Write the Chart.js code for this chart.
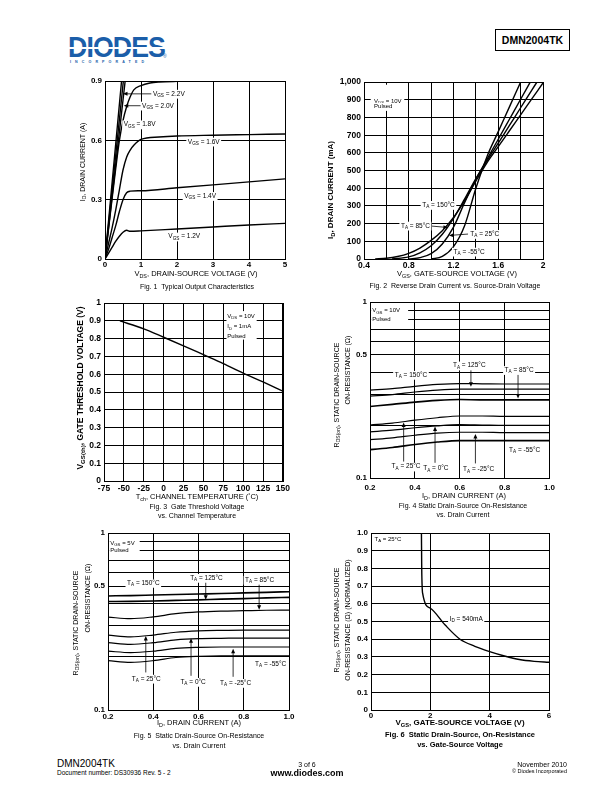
<!DOCTYPE html>
<html>
<head>
<meta charset="utf-8">
<title>DMN2004TK - page 3</title>
<script src="https://cdn.jsdelivr.net/npm/chart.js@4.4.1/dist/chart.umd.min.js"></script>
<style>
body { margin: 0; background: #fff; }
#page { position: relative; width: 612px; height: 792px; overflow: hidden; font-family: "Liberation Sans", Arial, sans-serif; color: #000; }
canvas { position: absolute; }
.t { position: absolute; white-space: nowrap; line-height: 1; font-size: 7px; transform: translate(-50%, -50%); }
.l { transform: translate(0, -50%); }
.rr { transform: translate(-100%, -50%); }
.rot { transform: translate(-50%, -50%) rotate(-90deg); }
.b { font-weight: bold; }
sub { font-size: 72%; vertical-align: -0.3em; line-height: 0; }
sup { font-size: 70%; vertical-align: 0.5em; line-height: 0; }
</style>
</head>
<body>
<div id="page">
  <!-- header -->
  <div style="position:absolute;left:68px;top:32px;font:bold 30px 'Liberation Sans',Arial,sans-serif;color:#1b5ea9;letter-spacing:-1px;line-height:1;transform:scaleX(0.89);transform-origin:left top;">DIODES</div>
  <div style="position:absolute;left:66px;top:47px;width:102px;height:1.5px;background:#fff;"></div>
  <div style="position:absolute;left:163px;top:53px;font-size:5px;color:#1b5ea9;">&#174;</div>
  <div style="position:absolute;left:70px;top:60px;font-size:3.6px;letter-spacing:4.1px;color:#1b5ea9;font-weight:bold;">INCORPORATED</div>
  <div style="position:absolute;left:495px;top:29px;width:75px;height:22px;border:1px solid #000;box-sizing:border-box;font-weight:bold;font-size:10.5px;display:flex;align-items:center;justify-content:center;">DMN2004TK</div>

  <canvas id="fig1"></canvas>
  <canvas id="fig2"></canvas>
  <canvas id="fig3"></canvas>
  <canvas id="fig4"></canvas>
  <canvas id="fig5"></canvas>
  <canvas id="fig6"></canvas>

  <!-- fig 1 texts -->
  <div class="t rot" style="left:82px;top:162px;">I<sub>D</sub>, DRAIN CURRENT (A)</div>
  <div class="t" style="left:196px;top:274px;font-size:7.5px;">V<sub>DS</sub>, DRAIN-SOURCE VOLTAGE (V)</div>
  <div class="t" style="left:197px;top:286px;">Fig. 1&nbsp; Typical Output Characteristics</div>

  <!-- fig 2 texts -->
  <div class="t rot b" style="left:331px;top:190px;font-size:8px;">I<sub>D</sub>, DRAIN CURRENT (mA)</div>
  <div class="t" style="left:457px;top:274px;font-size:7.5px;">V<sub>GS</sub>, GATE-SOURCE VOLTAGE (V)</div>
  <div class="t" style="left:455px;top:285px;">Fig. 2&nbsp; Reverse Drain Current vs. Source-Drain Voltage</div>

  <!-- fig 3 texts -->
  <div class="t rot b" style="left:80px;top:388px;font-size:8.5px;">V<sub>GS(th)</sub>, GATE THRESHOLD VOLTAGE (V)</div>
  <div class="t" style="left:197px;top:497px;font-size:7.5px;">T<sub>ch</sub>, CHANNEL TEMPERATURE (<sup>°</sup>C)</div>
  <div class="t" style="left:197px;top:506px;">Fig. 3&nbsp; Gate Threshold Voltage</div>
  <div class="t" style="left:197px;top:515px;">vs. Channel Temperature</div>

  <!-- fig 4 texts -->
  <div class="t rot" style="left:336px;top:395px;">R<sub>DS(on)</sub>, STATIC DRAIN-SOURCE</div>
  <div class="t rot" style="left:347px;top:370px;">ON-RESISTANCE (&#937;)</div>
  <div class="t" style="left:464px;top:496px;font-size:7.5px;">I<sub>D</sub>, DRAIN CURRENT (A)</div>
  <div class="t" style="left:463px;top:505px;">Fig. 4 Static Drain-Source On-Resistance</div>
  <div class="t" style="left:463px;top:514px;">vs. Drain Current</div>

  <!-- fig 5 texts -->
  <div class="t rot" style="left:75px;top:623px;">R<sub>DS(on)</sub>, STATIC DRAIN-SOURCE</div>
  <div class="t rot" style="left:87px;top:598px;">ON-RESISTANCE (&#937;)</div>
  <div class="t" style="left:199px;top:723px;font-size:7.5px;">I<sub>D</sub>, DRAIN CURRENT (A)</div>
  <div class="t" style="left:199px;top:735px;">Fig. 5&nbsp; Static Drain-Source On-Resistance</div>
  <div class="t" style="left:199px;top:745px;">vs. Drain Current</div>

  <!-- fig 6 texts -->
  <div class="t rot" style="left:336px;top:620px;">R<sub>DS(on)</sub>, STATIC DRAIN-SOURCE</div>
  <div class="t rot" style="left:347px;top:620px;">ON-RESISTANCE (&#937;) (NORMALIZED)</div>
  <div class="t b" style="left:460px;top:723px;font-size:8px;">V<sub>GS</sub>, GATE-SOURCE VOLTAGE (V)</div>
  <div class="t b" style="left:460px;top:735px;font-size:7.5px;">Fig. 6&nbsp; Static Drain-Source, On-Resistance</div>
  <div class="t b" style="left:460px;top:745px;font-size:7.5px;">vs. Gate-Source Voltage</div>

  <!-- footer -->
  <div class="t l" style="left:57px;top:764px;font-size:10px;">DMN2004TK</div>
  <div class="t l" style="left:57px;top:773px;font-size:6.5px;">Document number: DS30936 Rev. 5 - 2</div>
  <div class="t" style="left:307px;top:764px;font-size:7px;">3 of 6</div>
  <div class="t b" style="left:307px;top:773px;font-size:9px;">www.diodes.com</div>
  <div class="t rr" style="left:567px;top:764px;font-size:7px;">November 2010</div>
  <div class="t rr" style="left:567px;top:772px;font-size:5.5px;">&#169; Diodes Incorporated</div>
</div>

<script>
const FONT = '"Liberation Sans", Arial, sans-serif';

// ---- Fig. 1 : ID (A) vs VDS (V) ----
const f1_xTicks = [0, 1, 2, 3, 4, 5];
const f1_yTicks = [0, 0.3, 0.6, 0.9];
const f1_yLabels = ['0', '0.3', '0.6', '0.9'];
const f1_vds12 = [0, 0.1, 0.2, 0.3, 0.4, 0.5, 0.6, 0.7, 1, 2, 3, 4, 5];
const f1_id12 = [0, 0.03, 0.06, 0.09, 0.115, 0.135, 0.145, 0.14, 0.142, 0.152, 0.162, 0.172, 0.18];
const f1_vds14 = [0, 0.1, 0.2, 0.3, 0.4, 0.5, 0.6, 0.7, 1, 2, 3, 4, 5];
const f1_id14 = [0, 0.05, 0.11, 0.17, 0.24, 0.3, 0.335, 0.343, 0.345, 0.36, 0.375, 0.39, 0.405];
const f1_vds16 = [0, 0.1, 0.2, 0.3, 0.4, 0.5, 0.6, 0.7, 0.8, 1, 1.5, 2, 3, 4, 5];
const f1_id16 = [0, 0.08, 0.16, 0.25, 0.35, 0.45, 0.515, 0.551, 0.575, 0.605, 0.617, 0.622, 0.626, 0.629, 0.632];
const f1_vds18 = [0, 0.1, 0.2, 0.3, 0.4, 0.5, 0.6, 0.7, 0.8, 1, 1.25, 1.5, 2, 3, 4, 4.9];
const f1_id18 = [0, 0.155, 0.31, 0.46, 0.6, 0.7, 0.77, 0.82, 0.855, 0.877, 0.89, 0.895, 0.898, 0.9, 0.9, 0.9];
const f1_vds20 = [0, 0.28, 0.56];
const f1_vds22 = [0, 0.255, 0.51];
const f1_vdsHi = [0, 0.23, 0.46];
const f1_idSteep = [0, 0.45, 0.9];

// ---- Fig. 2 : ID (mA) vs VGS (V) ----
const f2_xTicks = [0.4, 0.6, 0.8, 1.0, 1.2, 1.4, 1.6, 1.8, 2.0];
const f2_xLabels = ['0.4', '', '0.8', '', '1.2', '', '1.6', '', '2'];
const f2_yTicks = [0, 100, 200, 300, 400, 500, 600, 700, 800, 900, 1000];
const f2_yLabels = ['0', '100', '200', '300', '400', '500', '600', '700', '800', '900', '1,000'];
const f2_vgsM55 = [1.0, 1.1, 1.2, 1.3, 1.4, 1.5, 1.6, 1.7, 1.8];
const f2_idM55 = [0, 15, 70, 190, 400, 580, 720, 860, 1000];
const f2_vgs25 = [0.8, 0.9, 1.0, 1.1, 1.2, 1.3, 1.4, 1.5, 1.6, 1.7, 1.8, 1.886];
const f2_id25 = [0, 8, 30, 85, 180, 320, 450, 565, 677, 790, 903, 1000];
const f2_vgs85 = [0.65, 0.8, 0.9, 1.0, 1.1, 1.2, 1.3, 1.4, 1.5, 1.6, 1.7, 1.8, 1.9, 1.946];
const f2_id85 = [0, 12, 35, 75, 140, 230, 340, 455, 555, 655, 755, 855, 955, 1000];
const f2_vgs150 = [0.5, 0.6, 0.7, 0.8, 0.9, 1.0, 1.1, 1.2, 1.3, 1.4, 1.5, 1.6, 1.7, 1.8, 1.9, 2.0];
const f2_id150 = [0, 4, 14, 32, 62, 105, 160, 235, 330, 440, 545, 635, 725, 815, 905, 995];

// ---- Fig. 3 : VGS(th) vs channel temperature ----
const f3_xTicks = [-75, -50, -25, 0, 25, 50, 75, 100, 125, 150];
const f3_yTicks = [0, 0.1, 0.2, 0.3, 0.4, 0.5, 0.6, 0.7, 0.8, 0.9, 1];
const f3_temp = [-55, -25, 0, 25, 50, 75, 100, 125, 150];
const f3_vth = [0.9, 0.855, 0.808, 0.76, 0.71, 0.66, 0.607, 0.557, 0.505];

// ---- Fig. 4 / Fig. 5 : RDS(on) vs ID ----
const r_xTicks = [0.2, 0.4, 0.6, 0.8, 1.0];
const r_yGrid = [0.1, 0.2, 0.3, 0.4, 0.5, 0.6, 0.7, 0.8, 0.9, 1];
const r_yLabels = ['0.1', '', '', '', '0.5', '', '', '', '', '1'];
const r_id = [0.2, 0.3, 0.4, 0.5, 0.6, 0.7, 0.8, 0.9, 1.0];
// VGS = 10V
const f4_r150 = [0.316, 0.322, 0.332, 0.34, 0.344, 0.343, 0.342, 0.342, 0.342];
const f4_r125 = [0.292, 0.298, 0.308, 0.316, 0.32, 0.32, 0.32, 0.32, 0.32];
const f4_r85 = [0.255, 0.262, 0.27, 0.276, 0.279, 0.278, 0.278, 0.278, 0.278];
const f4_r25 = [0.2, 0.205, 0.213, 0.22, 0.225, 0.225, 0.224, 0.224, 0.224];
const f4_r0 = [0.183, 0.187, 0.193, 0.198, 0.201, 0.2, 0.199, 0.199, 0.199];
const f4_rM25 = [0.165, 0.169, 0.175, 0.18, 0.182, 0.182, 0.181, 0.181, 0.181];
const f4_rM55 = [0.145, 0.149, 0.155, 0.16, 0.163, 0.163, 0.163, 0.163, 0.163];
// VGS = 5V
const f5_r150 = [0.441, 0.443, 0.446, 0.449, 0.452, 0.455, 0.459, 0.462, 0.466];
const f5_r125 = [0.41, 0.411, 0.413, 0.416, 0.419, 0.423, 0.426, 0.43, 0.433];
const f5_r85 = [0.335, 0.328, 0.336, 0.35, 0.358, 0.362, 0.364, 0.366, 0.367];
const f5_r25 = [0.265, 0.259, 0.265, 0.275, 0.28, 0.282, 0.283, 0.283, 0.283];
const f5_r0 = [0.24, 0.235, 0.24, 0.249, 0.253, 0.254, 0.255, 0.255, 0.255];
const f5_rM25 = [0.215, 0.211, 0.215, 0.223, 0.226, 0.227, 0.227, 0.227, 0.227];
const f5_rM55 = [0.19, 0.186, 0.19, 0.198, 0.201, 0.202, 0.202, 0.202, 0.202];

// ---- Fig. 6 : normalized RDS(on) vs VGS ----
const f6_xTicks = [0, 2, 4, 6];
const f6_yTicks = [0, 0.1, 0.2, 0.3, 0.4, 0.5, 0.6, 0.7, 0.8, 0.9, 1.0];
const f6_vgs = [1.7, 1.71, 1.74, 2.0, 2.5, 3.0, 3.5, 4.0, 4.5, 5.0, 5.5, 6.0];
const f6_rds = [1.0, 0.8, 0.66, 0.575, 0.48, 0.4, 0.36, 0.33, 0.305, 0.285, 0.275, 0.27];

// space around each plot area for tick labels
const PL = 34, PT = 8, PR = 10;

function pts(xs, ys) {
    return xs.map((x, i) => ({ x: x, y: ys[i] }));
}

function line(xs, ys, width) {
    return {
        data: pts(xs, ys),
        showLine: true,
        pointRadius: 0,
        borderColor: '#000',
        borderWidth: width || 1.4,
        cubicInterpolationMode: 'monotone'
    };
}

// text with _{sub} parts, drawn left-anchored at (x, y)
function drawRich(ctx, str, x, y, size, bg) {
    const parts = str.split(/_\{([^}]*)\}/);
    const fMain = size + 'px ' + FONT;
    const fSub = (size * 0.72).toFixed(2) + 'px ' + FONT;
    let w = 0;
    parts.forEach((p, i) => { ctx.font = i % 2 ? fSub : fMain; w += ctx.measureText(p).width; });
    if (bg) {
        ctx.fillStyle = '#fff';
        ctx.fillRect(x - 1.5, y - size * 0.62, w + 3, size * 1.35);
    }
    ctx.fillStyle = '#000';
    ctx.textBaseline = 'middle';
    ctx.textAlign = 'left';
    let cx = x;
    parts.forEach((p, i) => {
        ctx.font = i % 2 ? fSub : fMain;
        ctx.fillText(p, cx, i % 2 ? y + size * 0.3 : y);
        cx += ctx.measureText(p).width;
    });
}

function drawArrow(ctx, x1, y1, x2, y2) {
    const a = Math.atan2(y2 - y1, x2 - x1);
    ctx.strokeStyle = '#000';
    ctx.lineWidth = 0.8;
    ctx.beginPath();
    ctx.moveTo(x1, y1);
    ctx.lineTo(x2 - Math.cos(a) * 3, y2 - Math.sin(a) * 3);
    ctx.stroke();
    ctx.fillStyle = '#000';
    ctx.beginPath();
    ctx.moveTo(x2, y2);
    ctx.lineTo(x2 - Math.cos(a) * 4.5 + Math.sin(a) * 2, y2 - Math.sin(a) * 4.5 - Math.cos(a) * 2);
    ctx.lineTo(x2 - Math.cos(a) * 4.5 - Math.sin(a) * 2, y2 - Math.sin(a) * 4.5 + Math.cos(a) * 2);
    ctx.closePath();
    ctx.fill();
}

// labels, arrows and white boxes placed in data units
const notePlugin = {
    id: 'notes',
    afterDatasetsDraw(chart, args, opts) {
        const ctx = chart.ctx;
        const sx = chart.scales.x, sy = chart.scales.y;
        ctx.save();
        (opts.items || []).forEach(it => {
            if (it.box) {
                const x1 = sx.getPixelForValue(it.box[0]), y1 = sy.getPixelForValue(it.box[1]);
                const x2 = sx.getPixelForValue(it.box[2]), y2 = sy.getPixelForValue(it.box[3]);
                ctx.fillStyle = '#fff';
                ctx.fillRect(x1, y2, x2 - x1, y1 - y2);
            } else if (it.a) {
                drawArrow(ctx, sx.getPixelForValue(it.a[0]), sy.getPixelForValue(it.a[1]),
                    sx.getPixelForValue(it.a[2]), sy.getPixelForValue(it.a[3]));
            } else {
                drawRich(ctx, it.t, sx.getPixelForValue(it.x), sy.getPixelForValue(it.y), it.s || 6.5, it.bg !== false);
            }
        });
        ctx.restore();
    }
};

const framePlugin = {
    id: 'frame',
    afterDraw(chart) {
        const a = chart.chartArea, ctx = chart.ctx;
        ctx.save();
        ctx.strokeStyle = '#000';
        ctx.lineWidth = 1;
        ctx.strokeRect(Math.round(a.left) + 0.5, Math.round(a.top) + 0.5, Math.round(a.right - a.left), Math.round(a.bottom - a.top));
        ctx.restore();
    }
};

function axis(o, isX) {
    return {
        type: o.type || 'linear',
        min: o.min,
        max: o.max,
        afterBuildTicks: s => { s.ticks = o.ticks.map(v => ({ value: v })); },
        afterFit: s => { if (isX) s.height = o.h || 14; else s.width = PL; },
        grid: { color: '#000', lineWidth: 1, drawTicks: false },
        border: { color: '#000', width: 1 },
        ticks: {
            autoSkip: false,
            maxRotation: 0,
            padding: o.pad !== undefined ? o.pad : 3,
            color: '#000',
            font: { family: FONT, size: o.fs || 8, weight: 'bold' },
            callback: (v, i) => o.labels ? o.labels[i] : String(v)
        }
    };
}

function makeChart(id, box, datasets, xo, yo, notes) {
    const cv = document.getElementById(id);
    const xh = xo.h || 14;
    const w = box[2] - box[0] + PL + PR, h = box[3] - box[1] + PT + xh;
    cv.width = w;
    cv.height = h;
    cv.style.left = (box[0] - PL) + 'px';
    cv.style.top = (box[1] - PT) + 'px';
    cv.style.width = w + 'px';
    cv.style.height = h + 'px';
    return new Chart(cv, {
        type: 'scatter',
        data: { datasets: datasets },
        options: {
            responsive: false,
            animation: false,
            layout: { padding: { left: 0, top: PT, right: PR, bottom: 0 } },
            plugins: { legend: { display: false }, tooltip: { enabled: false }, notes: { items: notes } },
            scales: { x: axis(xo, true), y: axis(yo, false) }
        },
        plugins: [notePlugin, framePlugin]
    });
}

// Fig. 1
makeChart('fig1', [105, 81, 285, 259], [
    line(f1_vds12, f1_id12), line(f1_vds14, f1_id14), line(f1_vds16, f1_id16), line(f1_vds18, f1_id18),
    line(f1_vds20, f1_idSteep), line(f1_vds22, f1_idSteep), line(f1_vdsHi, f1_idSteep)
], { min: 0, max: 5, ticks: f1_xTicks, pad: 1, h: 11 },
   { min: 0, max: 0.9, ticks: f1_yTicks, labels: f1_yLabels }, [
    { a: [1.3, 0.835, 0.5, 0.835] },
    { t: 'V_{GS} = 2.2V', x: 1.33, y: 0.835 },
    { a: [1.0, 0.775, 0.52, 0.775] },
    { t: 'V_{GS} = 2.0V', x: 1.03, y: 0.775 },
    { t: 'V_{GS} = 1.8V', x: 0.52, y: 0.68 },
    { t: 'V_{GS} = 1.6V', x: 2.3, y: 0.593 },
    { t: 'V_{GS} = 1.4V', x: 2.2, y: 0.318 },
    { t: 'V_{GS} = 1.2V', x: 1.76, y: 0.113 }
]);

// Fig. 2
makeChart('fig2', [364, 82, 543, 259], [
    line(f2_vgsM55, f2_idM55), line(f2_vgs25, f2_id25), line(f2_vgs85, f2_id85), line(f2_vgs150, f2_id150)
], { min: 0.4, max: 2, ticks: f2_xTicks, labels: f2_xLabels, pad: 2, h: 12, fs: 8.5 },
   { min: 0, max: 1000, ticks: f2_yTicks, labels: f2_yLabels, fs: 8.5 }, [
    { box: [0.46, 845, 0.76, 985] },
    { t: 'V_{DS} = 10V', x: 0.49, y: 893, s: 6 },
    { t: 'Pulsed', x: 0.49, y: 862, s: 6 },
    { t: 'T_{A} = 150°C', x: 0.92, y: 305 },
    { a: [0.97, 188, 1.15, 178] },
    { t: 'T_{A} = 85°C', x: 0.73, y: 188 },
    { a: [1.33, 141, 1.16, 133] },
    { t: 'T_{A} = 25°C', x: 1.35, y: 141 },
    { t: 'T_{A} = -55°C', x: 1.2, y: 41 }
]);

// Fig. 3
makeChart('fig3', [104, 303, 283, 481], [
    line(f3_temp, f3_vth)
], { min: -75, max: 150, ticks: f3_xTicks, pad: 3, h: 13, fs: 8.5 },
   { min: 0, max: 1, ticks: f3_yTicks, fs: 8.5 }, [
    { box: [79, 0.795, 117, 0.955] },
    { t: 'V_{DS} = 10V', x: 80, y: 0.925, s: 6, bg: false },
    { t: 'I_{D} = 1mA', x: 80, y: 0.868, s: 6, bg: false },
    { t: 'Pulsed', x: 80, y: 0.812, s: 6, bg: false }
]);

// Fig. 4
makeChart('fig4', [370, 302, 550, 478], [
    line(r_id, f4_r150, 1.2), line(r_id, f4_r125, 1.2), line(r_id, f4_r85, 1.6), line(r_id, f4_r25, 1.2),
    line(r_id, f4_r0, 1.2), line(r_id, f4_rM25, 1.2), line(r_id, f4_rM55, 1.6)
], { min: 0.2, max: 1.0, ticks: r_xTicks, labels: r_xTicks.map(v => v.toFixed(1)), pad: 5, h: 15 },
   { type: 'logarithmic', min: 0.1, max: 1, ticks: r_yGrid, labels: r_yLabels }, [
    { box: [0.205, 0.75, 0.37, 0.94] },
    { t: 'V_{GS} = 10V', x: 0.21, y: 0.893, s: 6, bg: false },
    { t: 'Pulsed', x: 0.21, y: 0.8, s: 6, bg: false },
    { t: 'T_{A} = 150°C', x: 0.31, y: 0.385 },
    { a: [0.65, 0.418, 0.65, 0.33] },
    { t: 'T_{A} = 125°C', x: 0.57, y: 0.435 },
    { a: [0.86, 0.395, 0.86, 0.283] },
    { t: 'T_{A} = 85°C', x: 0.8, y: 0.41 },
    { a: [0.35, 0.124, 0.35, 0.207] },
    { t: 'T_{A} = 25°C', x: 0.296, y: 0.116 },
    { a: [0.49, 0.122, 0.49, 0.196] },
    { t: 'T_{A} = 0°C', x: 0.437, y: 0.113 },
    { a: [0.67, 0.121, 0.67, 0.178] },
    { t: 'T_{A} = -25°C', x: 0.615, y: 0.112 },
    { t: 'T_{A} = -55°C', x: 0.82, y: 0.144 }
]);

// Fig. 5
makeChart('fig5', [108, 533, 289, 710], [
    line(r_id, f5_r150, 1.6), line(r_id, f5_r125, 1.6), line(r_id, f5_r85, 1.2), line(r_id, f5_r25, 1.2),
    line(r_id, f5_r0, 1.2), line(r_id, f5_rM25, 1.2), line(r_id, f5_rM55, 1.2)
], { min: 0.2, max: 1.0, ticks: r_xTicks, labels: r_xTicks.map(v => v.toFixed(1)), pad: 2, h: 12 },
   { type: 'logarithmic', min: 0.1, max: 1, ticks: r_yGrid, labels: r_yLabels }, [
    { box: [0.205, 0.75, 0.34, 0.94] },
    { t: 'V_{GS} = 5V', x: 0.21, y: 0.878, s: 6, bg: false },
    { t: 'Pulsed', x: 0.21, y: 0.8, s: 6, bg: false },
    { t: 'T_{A} = 150°C', x: 0.284, y: 0.522 },
    { a: [0.632, 0.53, 0.632, 0.42] },
    { t: 'T_{A} = 125°C', x: 0.563, y: 0.557 },
    { a: [0.868, 0.52, 0.868, 0.368] },
    { t: 'T_{A} = 85°C', x: 0.806, y: 0.543 },
    { a: [0.367, 0.163, 0.367, 0.262] },
    { t: 'T_{A} = 25°C', x: 0.305, y: 0.15 },
    { a: [0.567, 0.156, 0.567, 0.254] },
    { t: 'T_{A} = 0°C', x: 0.52, y: 0.144 },
    { a: [0.753, 0.154, 0.753, 0.222] },
    { t: 'T_{A} = -25°C', x: 0.695, y: 0.142 },
    { t: 'T_{A} = -55°C', x: 0.85, y: 0.182 }
]);

// Fig. 6
makeChart('fig6', [371, 533, 549, 710], [
    line(f6_vgs, f6_rds)
], { min: 0, max: 6, ticks: f6_xTicks, pad: 1, h: 11 },
   { min: 0, max: 1, ticks: f6_yTicks, labels: f6_yTicks.map(v => v.toFixed(1)).map(s => s === '0.0' ? '0' : s) }, [
    { t: 'T_{A} = 25°C', x: 0.12, y: 0.965, s: 6 },
    { t: 'I_{D} = 540mA', x: 2.65, y: 0.513 }
]);
</script>
</body>
</html>
